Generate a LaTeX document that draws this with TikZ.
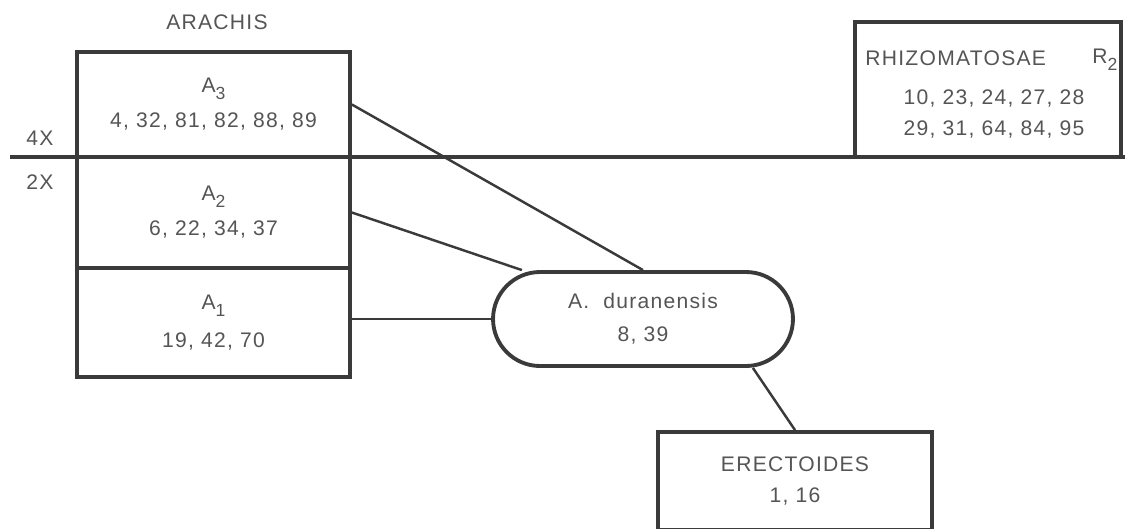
\documentclass[tikz,border=0pt]{standalone}
\usepackage{fontspec}
\setmainfont{Liberation Sans}[LetterSpace=6]
\usetikzlibrary{positioning}
\definecolor{inkline}{HTML}{3A3A3A}
\definecolor{inktext}{HTML}{555555}
\newcommand{\lowidx}[1]{\raisebox{-4pt}{\fontsize{10}{10}\selectfont#1}}
\tikzset{
  group/.style={draw=inkline, line width=2.2pt, rectangle, minimum width=5.46cm,
    align=center, text=inktext, font=\fontsize{12}{20}\selectfont, inner sep=0pt},
  label/.style={text=inktext, font=\fontsize{12}{20}\selectfont, inner sep=0pt},
  link/.style={draw=inkline, line width=1.4pt}
}
\begin{document}
\begin{tikzpicture}[x=0.02cm, y=-0.02cm]
  \useasboundingbox (0,0) rectangle (1125,528);
  \draw
    (213.5,104.5) node[group, minimum height=2.1cm] (A3){A\lowidx{3}\\[0pt]4, 32, 81, 82, 88, 89}
    (213.5,212.5) node[group, minimum height=2.22cm] (A2){A\lowidx{2}\\[0pt]6, 22, 34, 37}
    (213.5,322.5) node[group, minimum height=2.18cm] (A1){A\lowidx{1}\\[2pt]19, 42, 70}
    (643,319) node[group, minimum width=6cm, minimum height=1.88cm, rounded corners=0.94cm] (duran){A.\ \ duranensis\\[-1pt]8, 39}
    (795,481) node[group, minimum width=5.48cm, minimum height=1.96cm] (erect){ERECTOIDES\\[-2pt]1, 16}
    (988,89.5) node[group, minimum width=5.32cm, minimum height=2.7cm] (rhizo){};
  \node[label] (arachis) at (217,22) {ARACHIS};
  \node[label] (tetra) at (40,138) {4X};
  \node[label] (di) at (40,182) {2X};
  \node[label, anchor=west] (rhizoName) at (865,58) {RHIZOMATOSAE};
  \node[label, anchor=west] (rhizoR) at (1092,60) {R\lowidx{2}};
  \node[label, align=center] (rhizoNums) at (994,114) {10, 23, 24, 27, 28\\[-2pt]29, 31, 64, 84, 95};
  \coordinate (ploidyL) at (10,157);
  \coordinate (ploidyR) at (1125,157);
  \begin{scope}[link]
    \draw[line width=2.2pt] (ploidyL) to (ploidyR);
    \draw (A3.east) to (duran.north);
    \draw (A2.east) to (duran.158);
    \draw (duran.west -| A1.east) to (duran.west);
    \draw (duran.-24) to (erect.north);
  \end{scope}
\end{tikzpicture}
\end{document}
